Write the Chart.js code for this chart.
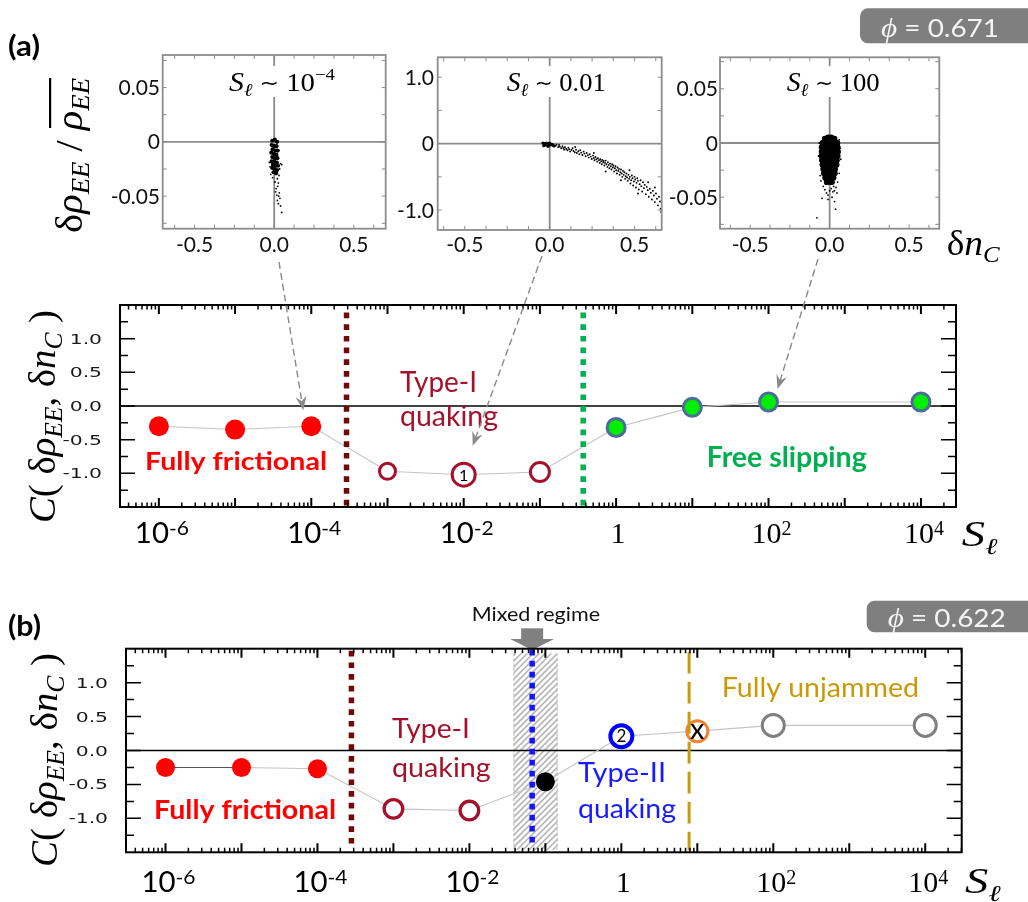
<!DOCTYPE html>
<html>
<head>
<meta charset="utf-8">
<title>C(δρEE, δnC) versus Sℓ</title>
<script src="https://cdn.jsdelivr.net/npm/chart.js@4.4.1/dist/chart.umd.min.js"></script>
<style>
  html, body { margin: 0; padding: 0; background: #fff; }
  #fig { position: relative; width: 1028px; height: 902px; overflow: hidden; background: #fff; }
  #fig canvas { position: absolute; left: 0; top: 0; }
</style>
</head>
<body>
<div id="fig">
  <canvas id="insetLow" width="1028" height="902"></canvas>
  <canvas id="insetMid" width="1028" height="902"></canvas>
  <canvas id="insetHigh" width="1028" height="902"></canvas>
  <canvas id="panelA" width="1028" height="902"></canvas>
  <canvas id="panelB" width="1028" height="902"></canvas>
</div>
<script>
// ---------------- data ----------------
// panel (a), phi = 0.671
const slA   = [1e-6, 1e-5, 1e-4, 1e-3, 1e-2, 1e-1, 1, 10, 100, 1e4];
const corrA = [-0.30, -0.35, -0.30, -0.97, -1.02, -0.98, -0.32, -0.02, 0.06, 0.06];
const boundA = [2.9e-4, 0.37];              // frictional | quaking-I | slipping

// panel (b), phi = 0.622
const slB   = [1e-6, 1e-5, 1e-4, 1e-3, 1e-2, 1e-1, 1, 10, 100, 1e4];
const corrB = [-0.25, -0.25, -0.27, -0.86, -0.885, -0.46, 0.21, 0.285, 0.37, 0.37];
const boundB = [2.8e-4, 0.067, 7.8];        // frictional | quaking-I | quaking-II | unjammed
const mixedBand = [0.038, 0.145];

// axis tick labels
const decadeLabels = [-6, -4, -2, 0, 2, 4];
const corrTicks = [-1.0, -0.5, 0.0, 0.5, 1.0];
const insetXTicks = [[-0.5, '-0.5'], [0, '0.0'], [0.5, '0.5']];
const insetYSmall = [[0.05, '0.05'], [0, '0'], [-0.05, '-0.05']];
const insetYLarge = [[1.0, '1.0'], [0, '0'], [-1.0, '-1.0']];

// scatter of (δn_C, δρ_EE/ρ̄_EE) at S_ℓ ~ 1e-4
const lowCore = [[-0.012,0.001],[0.004,0.002],[0.018,0.000],[-0.016,-0.003],[0.000,-0.004],[0.014,-0.004],
  [-0.010,-0.007],[0.008,-0.008],[0.022,-0.008],[-0.018,-0.010],[-0.002,-0.011],[0.014,-0.012],
  [-0.012,-0.014],[0.004,-0.015],[0.020,-0.015],[-0.016,-0.018],[0.000,-0.018],[0.016,-0.019],
  [-0.008,-0.021],[0.008,-0.022],[0.024,-0.022],[-0.012,-0.024],[0.004,-0.025],[0.018,-0.026],
  [-0.004,-0.028],[0.012,-0.029]];
const lowSparse = [[-0.030,-0.019],[-0.026,-0.023],[0.040,-0.020],[0.047,-0.021],[0.034,-0.025],[-0.022,-0.030],
  [0.030,-0.031],[-0.010,-0.033],[0.020,-0.034],[0.005,-0.037],[0.026,-0.038],[0.022,-0.041],[0.012,-0.043],
  [0.009,-0.046],[0.032,-0.047],[0.016,-0.049],[0.028,-0.050],[0.036,-0.052],[0.020,-0.054],[0.026,-0.057],
  [0.040,-0.059],[0.047,-0.065]];

// S_ℓ ~ 0.01
const midCore = [[-0.04,0.01],[-0.03,0.0],[-0.02,0.01],[-0.01,0.0],[0.0,0.01],[0.01,-0.01],[-0.025,-0.02],
  [0.015,-0.02],[-0.035,-0.03],[0.0,-0.02],[0.025,-0.035],[-0.01,-0.04]];
const midBand = [[0.02,-0.01],[0.035,-0.03],[0.04,-0.015],[0.05,-0.05],[0.055,-0.02],[0.06,-0.045],
  [0.068,-0.07],[0.075,-0.04],[0.08,-0.065],[0.085,-0.09],[0.09,-0.055],[0.097,-0.08],[0.105,-0.1],
  [0.11,-0.06],[0.115,-0.085],[0.12,-0.12],[0.128,-0.095],[0.135,-0.07],[0.14,-0.11],[0.148,-0.13],
  [0.15,-0.05],[0.155,-0.09],[0.16,-0.14],[0.168,-0.115],[0.175,-0.16],[0.18,-0.1],[0.186,-0.135],
  [0.193,-0.17],[0.2,-0.12],[0.205,-0.15],[0.212,-0.19],[0.218,-0.14],[0.225,-0.175],[0.23,-0.21],
  [0.236,-0.16],[0.242,-0.195],[0.248,-0.23],[0.255,-0.18],[0.26,-0.215],[0.26,-0.14],[0.264,-0.25],
  [0.27,-0.2],[0.275,-0.235],[0.28,-0.27],[0.284,-0.22],[0.29,-0.25],[0.295,-0.29],[0.298,-0.235],
  [0.303,-0.265],[0.307,-0.31],[0.31,-0.245],[0.315,-0.28],[0.318,-0.26],[0.322,-0.33],[0.326,-0.29],
  [0.33,-0.255],[0.33,-0.42],[0.335,-0.31],[0.34,-0.35],[0.343,-0.28],[0.348,-0.32],[0.352,-0.37],
  [0.356,-0.3],[0.36,-0.34],[0.364,-0.39],[0.368,-0.31],[0.372,-0.36],[0.376,-0.33],[0.38,-0.42],
  [0.384,-0.37],[0.388,-0.34],[0.392,-0.4],[0.396,-0.45],[0.4,-0.36],[0.404,-0.41],[0.408,-0.38],
  [0.412,-0.47],[0.416,-0.43],[0.42,-0.39],[0.42,-0.55],[0.424,-0.45],[0.428,-0.5],[0.432,-0.41],
  [0.436,-0.47],[0.44,-0.43],[0.444,-0.53],[0.448,-0.49],[0.452,-0.45],[0.456,-0.51],[0.46,-0.56],
  [0.464,-0.47],[0.468,-0.53],[0.47,-0.4],[0.472,-0.5],[0.476,-0.6],[0.48,-0.55],[0.484,-0.48],
  [0.488,-0.52],[0.492,-0.63],[0.496,-0.57],[0.5,-0.5],[0.504,-0.54],[0.508,-0.66],[0.512,-0.59],
  [0.516,-0.52],[0.52,-0.56],[0.52,-0.75],[0.525,-0.69],[0.53,-0.61],[0.535,-0.55],[0.54,-0.64],
  [0.545,-0.72],[0.55,-0.58],[0.555,-0.67],[0.56,-0.62],[0.566,-0.76],[0.572,-0.65],[0.578,-0.7],
  [0.58,-0.58],[0.584,-0.8],[0.59,-0.68],[0.596,-0.74],[0.602,-0.84],[0.608,-0.71],[0.614,-0.78],
  [0.62,-0.88],[0.62,-0.66],[0.626,-0.75],[0.632,-0.83],[0.638,-0.93],[0.644,-0.8],[0.65,-0.87],
  [0.654,-0.98],[0.657,-1.03]];

// S_ℓ ~ 100
const highCore = [
  [-0.03,0.004],[-0.01,0.005],[0.01,0.005],[0.03,0.004],
  [-0.045,0.000],[-0.025,0.000],[-0.005,0.000],[0.015,0.000],[0.035,0.000],[0.048,0.000],
  [-0.05,-0.004],[-0.03,-0.004],[-0.01,-0.004],[0.01,-0.004],[0.03,-0.004],[0.05,-0.004],
  [-0.05,-0.008],[-0.032,-0.008],[-0.014,-0.008],[0.004,-0.008],[0.022,-0.008],[0.04,-0.008],[0.052,-0.008],
  [-0.05,-0.012],[-0.03,-0.012],[-0.01,-0.012],[0.01,-0.012],[0.03,-0.012],[0.05,-0.012],
  [-0.048,-0.016],[-0.03,-0.016],[-0.012,-0.016],[0.006,-0.016],[0.024,-0.016],[0.045,-0.016],
  [-0.045,-0.020],[-0.027,-0.020],[-0.009,-0.020],[0.009,-0.020],[0.027,-0.020],[0.043,-0.020],
  [-0.04,-0.024],[-0.022,-0.024],[-0.004,-0.024],[0.014,-0.024],[0.034,-0.024],
  [-0.036,-0.028],[-0.018,-0.028],[0.0,-0.028],[0.018,-0.028],[0.032,-0.028],
  [-0.028,-0.032],[-0.01,-0.032],[0.008,-0.032],[0.024,-0.032],
  [-0.018,-0.036],[0.0,-0.036],[0.014,-0.036]];
const highSparse = [[-0.06,-0.030],[0.06,-0.028],[-0.055,-0.035],[0.05,-0.036],[-0.04,-0.040],[0.04,-0.041],
  [-0.03,-0.043],[0.03,-0.044],[-0.02,-0.046],[0.02,-0.045],[-0.01,-0.048],[0.01,-0.042],[0.0,-0.044],
  [-0.025,-0.038],[0.025,-0.040],[0.07,-0.015],[-0.07,-0.012],[0.065,-0.005],[-0.065,0.0],[0.06,0.003],
  [-0.08,-0.069],[-0.048,-0.051],[0.031,-0.054],[0.046,-0.046],[0.037,-0.061],[-0.01,-0.052],[0.015,-0.050]];

// ---------------- drawing helpers ----------------
const FIG_W = 1028, FIG_H = 902;
const SERIF = '"Liberation Serif", "DejaVu Serif", serif';
const SANS = 'Lato, "Open Sans", sans-serif';
const VERD = '"DejaVu Sans", Verdana, sans-serif';

const pts = (xs, ys) => xs.map((x, i) => ({ x, y: ys[i] }));
const pairs = list => list.map(([x, y]) => ({ x, y }));

// Draws a run of text pieces [text, font, dy, overline] on one baseline.
function richText(ctx, segs, x, y, opt = {}) {
  ctx.save();
  ctx.translate(x, y);
  if (opt.rotate) ctx.rotate(opt.rotate);
  const widths = segs.map(s => { ctx.font = s[1]; return ctx.measureText(s[0]).width; });
  const total = widths.reduce((a, b) => a + b, 0);
  const k = opt.width ? opt.width / total : (opt.scale || 1);
  ctx.scale(k, 1);
  let cx = opt.align === 'center' ? -total / 2 : opt.align === 'right' ? -total : 0;
  ctx.fillStyle = opt.color || '#000';
  ctx.textAlign = 'left';
  ctx.textBaseline = 'alphabetic';
  let b0 = null, b1 = null;
  segs.forEach((s, i) => {
    ctx.font = s[1];
    ctx.fillText(s[0], cx, s[2] || 0);
    if (s[3]) { if (b0 === null) b0 = cx; b1 = cx + widths[i]; }
    cx += widths[i];
  });
  if (b0 !== null && opt.bar) ctx.fillRect(b0 + 2, opt.bar[0], b1 - b0 - 2, opt.bar[1]);
  ctx.restore();
}

function vline(ctx, x, y0, y1, color, width, dash) {
  ctx.save();
  ctx.strokeStyle = color; ctx.lineWidth = width; ctx.setLineDash(dash); ctx.lineCap = 'butt';
  ctx.beginPath(); ctx.moveTo(x, y0); ctx.lineTo(x, y1); ctx.stroke();
  ctx.restore();
}

function phiBox(ctx, x, y, w, h, value, base) {
  ctx.save();
  ctx.fillStyle = '#7f7f7f';
  ctx.beginPath(); ctx.roundRect(x, y, w, h, 8); ctx.fill();
  ctx.restore();
  richText(ctx, [['ϕ', `italic 28px ${SERIF}`], [' = ' + value, `25px ${SANS}`]], x + 21, base,
    { width: 118, color: '#f4f4f4' });
}

function dashedArrow(ctx, x0, y0, x1, y1) {
  const ang = Math.atan2(y1 - y0, x1 - x0);
  const L = 14, Wd = 5.5, N = 9;
  const c = Math.cos(ang), s = Math.sin(ang);
  ctx.save();
  ctx.strokeStyle = '#8a8a8a'; ctx.fillStyle = '#8a8a8a';
  ctx.lineWidth = 1.4; ctx.setLineDash([7, 4]);
  ctx.beginPath(); ctx.moveTo(x0, y0); ctx.lineTo(x1 - c * N, y1 - s * N); ctx.stroke();
  ctx.setLineDash([]);
  ctx.beginPath();
  ctx.moveTo(x1, y1);
  ctx.lineTo(x1 - c * L - s * Wd, y1 - s * L + c * Wd);
  ctx.lineTo(x1 - c * N, y1 - s * N);
  ctx.lineTo(x1 - c * L + s * Wd, y1 - s * L - c * Wd);
  ctx.closePath(); ctx.fill();
  ctx.restore();
}

// Frame, inward ticks and tick labels of a log-x correlation panel.
function drawLogFrame(chart, labelBase) {
  const { ctx, chartArea: a, scales: { x, y } } = chart;
  ctx.save();
  ctx.strokeStyle = '#000';
  const e0 = Math.floor(Math.log10(x.min)), e1 = Math.ceil(Math.log10(x.max));
  for (let e = e0; e <= e1; e++) {
    for (let m = 1; m < 10; m++) {
      const v = m * Math.pow(10, e);
      if (v < x.min || v > x.max) continue;
      const px = x.getPixelForValue(v);
      const len = m === 1 ? 9 : 4.5;
      ctx.lineWidth = m === 1 ? 2 : 1.5;
      ctx.beginPath();
      ctx.moveTo(px, a.top); ctx.lineTo(px, a.top + len);
      ctx.moveTo(px, a.bottom); ctx.lineTo(px, a.bottom - len);
      ctx.stroke();
    }
  }
  for (let i = -5; i <= 5; i++) {
    const v = i * 0.25;
    const py = y.getPixelForValue(v);
    const len = i % 2 === 0 ? 15 : 8;
    ctx.lineWidth = 1.5;
    ctx.beginPath();
    ctx.moveTo(a.left, py); ctx.lineTo(a.left + len, py);
    ctx.moveTo(a.right, py); ctx.lineTo(a.right - len, py);
    ctx.stroke();
  }
  ctx.lineWidth = 2;
  ctx.strokeRect(a.left, a.top, a.right - a.left, a.bottom - a.top);
  ctx.restore();

  corrTicks.forEach(v => {
    richText(ctx, [[v.toFixed(1), `14px ${VERD}`]], a.left - 18, y.getPixelForValue(v) + 5,
      { align: 'right', scale: 1.45, color: '#1a1a1a' });
  });
  decadeLabels.forEach(e => {
    const px = x.getPixelForValue(Math.pow(10, e)) + 3;
    if (e === 0) {
      richText(ctx, [['1', `30px ${SERIF}`]], px - 1, labelBase, { align: 'center' });
    } else if (e > 0) {
      richText(ctx, [['10', `30px ${SERIF}`], [String(e), `20px ${SERIF}`, -8]], px, labelBase, { align: 'center' });
    } else {
      richText(ctx, [['10', `28px ${SANS}`], ['-' + (-e), `20px ${SANS}`, -8]], px, labelBase,
        { align: 'center', width: 54 });
    }
  });
}

function zeroLine(chart) {
  const { ctx, chartArea: a, scales: { y } } = chart;
  const py = y.getPixelForValue(0);
  ctx.save();
  ctx.strokeStyle = '#000'; ctx.lineWidth = 1.4;
  ctx.beginPath(); ctx.moveTo(a.left, py); ctx.lineTo(a.right, py); ctx.stroke();
  ctx.restore();
}

function markerLabel(chart, xv, yv, text, font, dy) {
  const { ctx, scales: { x, y } } = chart;
  ctx.save();
  ctx.font = font; ctx.fillStyle = '#000'; ctx.textAlign = 'center'; ctx.textBaseline = 'alphabetic';
  ctx.fillText(text, x.getPixelForValue(xv), y.getPixelForValue(yv) + dy);
  ctx.restore();
}

const yTitleSegs = [
  ['C', `italic 38px ${SERIF}`], ['( ', `38px ${SERIF}`], ['δ', `38px ${SERIF}`], ['ρ', `italic 38px ${SERIF}`],
  ['EE', `italic 25px ${SERIF}`, 7], [', ', `38px ${SERIF}`], ['δ', `38px ${SERIF}`], ['n', `italic 38px ${SERIF}`],
  ['C', `italic 25px ${SERIF}`, 7], [' )', `38px ${SERIF}`]];
const slSegs = [['S', `italic 35px ${SERIF}`], ['ℓ', `italic 23px ${SERIF}`, 8]];

function baseOptions(area, xScale, yScale) {
  const [L, T, R, B] = area;
  return {
    responsive: false, animation: false, devicePixelRatio: 1, events: [],
    layout: { padding: { left: L, top: T, right: FIG_W - R, bottom: FIG_H - B } },
    plugins: { legend: { display: false }, tooltip: { enabled: false } },
    scales: { x: Object.assign({ display: false }, xScale), y: Object.assign({ display: false }, yScale) }
  };
}

// ---------------- insets ----------------
function insetChart(id, area, xr, yr, yStep, yLabels, labelRight, titleSegs, titleX, titleW, sets) {
  const plugin = {
    id: 'insetFrame',
    beforeDatasetsDraw(chart) {
      const { ctx, chartArea: a, scales: { x, y } } = chart;
      ctx.save();
      ctx.strokeStyle = '#8c8c8c'; ctx.lineWidth = 1.8;
      ctx.beginPath();
      ctx.moveTo(a.left, y.getPixelForValue(0)); ctx.lineTo(a.right, y.getPixelForValue(0));
      ctx.moveTo(x.getPixelForValue(0), a.top); ctx.lineTo(x.getPixelForValue(0), a.bottom);
      ctx.stroke();
      ctx.restore();
    },
    afterDatasetsDraw(chart) {
      const { ctx, chartArea: a, scales: { x, y } } = chart;
      ctx.save();
      ctx.strokeStyle = '#8c8c8c'; ctx.lineWidth = 1;
      ctx.beginPath();
      for (let i = -6; i <= 6; i++) {
        const v = i * 0.125;
        if (v <= x.min || v >= x.max) continue;
        const px = x.getPixelForValue(v);
        ctx.moveTo(px, a.top); ctx.lineTo(px, a.top + 4);
        ctx.moveTo(px, a.bottom); ctx.lineTo(px, a.bottom - 4);
      }
      for (let i = -6; i <= 6; i++) {
        const v = i * yStep;
        if (v <= y.min || v >= y.max) continue;
        const py = y.getPixelForValue(v);
        ctx.moveTo(a.left, py); ctx.lineTo(a.left + 4, py);
        ctx.moveTo(a.right, py); ctx.lineTo(a.right - 4, py);
      }
      ctx.stroke();
      ctx.lineWidth = 1.8;
      ctx.strokeRect(a.left, a.top, a.right - a.left, a.bottom - a.top);
      // title sits on a white patch above the crosshair
      ctx.fillStyle = '#fff';
      ctx.fillRect(titleX - 2, 66, titleW + 4, 31);
      ctx.restore();
      richText(ctx, titleSegs, titleX, 90.7, { width: titleW });
      yLabels.forEach(([v, t]) => richText(ctx, [[t, `21px ${SANS}`]], labelRight, y.getPixelForValue(v) + 7.5,
        { align: 'right', color: '#111' }));
      insetXTicks.forEach(([v, t]) => richText(ctx, [[t, `21px ${SANS}`]], x.getPixelForValue(v), 251.7,
        { align: 'center', color: '#111' }));
    }
  };
  return new Chart(document.getElementById(id), {
    type: 'scatter',
    data: { datasets: sets.map(([d, r]) => ({ data: pairs(d), pointRadius: r, borderWidth: 0, backgroundColor: '#000' })) },
    options: baseOptions(area, { type: 'linear', min: -xr, max: xr }, { type: 'linear', min: -yr, max: yr }),
    plugins: [plugin]
  });
}

const titleS = [['S', `italic 27px ${SERIF}`], ['ℓ', `italic 18px ${SERIF}`, 5], [' ', `26px ${SERIF}`],
  ['∼', `21px "DejaVu Sans", sans-serif`, -1]];
insetChart('insetLow', [162.7, 55, 385.7, 228.7], 0.70, 0.08, 0.025, insetYSmall, 160,
  titleS.concat([[' 10', `26px ${SERIF}`], ['−4', `17px ${SERIF}`, -11]]), 229, 106,
  [[lowCore, 2.1], [lowSparse, 0.9]]);
insetChart('insetMid', [437.7, 57.3, 661.7, 230], 0.66, 1.3, 0.5, insetYLarge, 434,
  titleS.concat([[' 0.01', `26px ${SERIF}`]]), 506.7, 99,
  [[midCore, 1.6], [midBand, 0.95]]);
insetChart('insetHigh', [720, 57.3, 939.3, 228.7], 0.69, 0.079, 0.025, insetYSmall, 718,
  titleS.concat([[' 100', `26px ${SERIF}`]]), 786.7, 93,
  [[highCore, 3], [highSparse, 0.9]]);

// ---------------- panel (a) ----------------
const panelAPlugin = {
  id: 'panelA',
  beforeDatasetsDraw(chart) { zeroLine(chart); },
  afterDatasetsDraw(chart) {
    const { ctx, chartArea: a, scales: { x, y } } = chart;
    vline(ctx, x.getPixelForValue(boundA[0]), a.top + 7.5, a.bottom, '#700a0a', 5.5, [5.7, 6]);
    vline(ctx, x.getPixelForValue(boundA[1]), a.top + 7.5, a.bottom, '#00b050', 5.5, [5.7, 6]);
    drawLogFrame(chart, 543);
    markerLabel(chart, slA[4], corrA[4], '1', `16px ${SANS}`, 6);

    richText(ctx, [['Fully frictional', `bold 24px ${SANS}`]], 145, 470, { width: 182, color: '#ff0000' });
    richText(ctx, [['Type-I', `28px ${SANS}`]], 400, 391.7, { width: 77, color: '#a5102b' });
    richText(ctx, [['quaking', `28px ${SANS}`]], 400, 426, { width: 98, color: '#a5102b' });
    richText(ctx, [['Free slipping', `bold 28px ${SANS}`]], 706.7, 466.7, { width: 160, color: '#00b050' });

    // pointers from the insets down to the matching S_ℓ
    const px = v => x.getPixelForValue(v), py = v => y.getPixelForValue(v);
    dashedArrow(ctx, 279, 262, px(slA[2]) - 8, py(corrA[2]) - 16);
    dashedArrow(ctx, 542, 256, px(slA[4]) + 9, py(corrA[4]) - 29);
    dashedArrow(ctx, 818, 259, px(slA[8]) + 9, py(corrA[8]) - 13);

    // figure-level labels
    richText(ctx, [['(a)', `bold 28px ${SANS}`]], 8, 56, { width: 32 });
    phiBox(ctx, 860, 8.3, 180, 35, '0.671', 36.7);
    richText(ctx, [['δ', `38px ${SERIF}`], ['ρ', `italic 38px ${SERIF}`], ['EE', `italic 25px ${SERIF}`, 7],
      [' / ', `38px ${SERIF}`], ['ρ', `italic 38px ${SERIF}`, 0, 1], ['EE', `italic 25px ${SERIF}`, 7, 1]],
      82, 233, { width: 155, rotate: -Math.PI / 2, bar: [-33, 2.2] });
    richText(ctx, [['δ', `36px ${SERIF}`], ['n', `italic 36px ${SERIF}`], ['C', `italic 24px ${SERIF}`, 7]],
      946.7, 255, { width: 53 });
    richText(ctx, yTitleSegs, 55, 523, { width: 213, rotate: -Math.PI / 2 });
    richText(ctx, slSegs, 961.7, 546, { width: 36 });
  }
};

new Chart(document.getElementById('panelA'), {
  type: 'scatter',
  data: {
    datasets: [
      { data: pts(slA, corrA), showLine: true, borderColor: '#c4c4c4', borderWidth: 1.1, pointRadius: 0, order: 10 },
      { data: pts(slA.slice(0, 3), corrA.slice(0, 3)), pointRadius: 10, borderWidth: 0, backgroundColor: '#ff0000' },
      { data: pts(slA.slice(3, 6), corrA.slice(3, 6)), pointRadius: [8, 11.5, 9.5], borderWidth: 3,
        borderColor: '#a5102b', backgroundColor: '#ffffff' },
      { data: pts(slA.slice(6), corrA.slice(6)), pointRadius: 9, borderWidth: 3,
        borderColor: '#4a6d9c', backgroundColor: '#00ee00' }
    ]
  },
  options: baseOptions([120, 305, 956, 507],
    { type: 'logarithmic', min: Math.pow(10, -6.51), max: Math.pow(10, 4.46) },
    { type: 'linear', min: -1.5, max: 1.5 }),
  plugins: [panelAPlugin]
});

// ---------------- panel (b) ----------------
const panelBPlugin = {
  id: 'panelB',
  beforeDatasetsDraw(chart) {
    const { ctx, chartArea: a, scales: { x } } = chart;
    const xl = x.getPixelForValue(mixedBand[0]), xr = x.getPixelForValue(mixedBand[1]);
    const top = 653.3, bot = 850;
    ctx.save();
    ctx.beginPath(); ctx.rect(xl, top, xr - xl, bot - top); ctx.clip();
    ctx.strokeStyle = '#b8b8b8'; ctx.lineWidth = 1.6;
    ctx.beginPath();
    for (let k = -(bot - top) - 10; k < xr - xl + 10; k += 6) {
      ctx.moveTo(xl + k, bot); ctx.lineTo(xl + k + (bot - top), top);
    }
    ctx.stroke();
    ctx.restore();
    vline(ctx, xl + 0.5, top, bot, '#bdbdbd', 1, [3, 2]);
    vline(ctx, xr - 0.5, top, bot, '#bdbdbd', 1, [3, 2]);
    zeroLine(chart);
  },
  afterDatasetsDraw(chart) {
    const { ctx, chartArea: a, scales: { x } } = chart;
    vline(ctx, x.getPixelForValue(boundB[0]), a.top + 2, a.bottom - 4, '#700a0a', 5.5, [5.7, 6]);
    vline(ctx, x.getPixelForValue(boundB[1]), a.top + 1, a.bottom - 6, '#1414ff', 5.5, [5.7, 5.3]);
    vline(ctx, x.getPixelForValue(boundB[2]), 651.7, a.bottom - 2, '#c99a12', 3, [21.7, 8.3]);

    // arrow marking the mixed regime
    const cx = x.getPixelForValue(boundB[1]);
    ctx.save();
    ctx.fillStyle = '#808080';
    ctx.fillRect(cx - 11, 628.3, 22, 10.7);
    ctx.beginPath(); ctx.moveTo(cx - 22, 639); ctx.lineTo(cx + 22, 639); ctx.lineTo(cx, 650); ctx.closePath(); ctx.fill();
    ctx.restore();

    drawLogFrame(chart, 892);
    markerLabel(chart, slB[6], corrB[6], '2', `17px ${SANS}`, 6);
    markerLabel(chart, slB[7], corrB[7], 'x', `29px ${SANS}`, 7.5);

    richText(ctx, [['Mixed regime', `19px ${SANS}`]], 471.7, 620.7, { width: 128.3, color: '#111' });
    richText(ctx, [['Fully frictional', `bold 27px ${SANS}`]], 154, 819.3, { width: 182, color: '#ff0000' });
    richText(ctx, [['Type-I', `26px ${SANS}`]], 392, 737.7, { width: 78, color: '#a5102b' });
    richText(ctx, [['quaking', `26px ${SANS}`]], 392, 776.7, { width: 98.7, color: '#a5102b' });
    richText(ctx, [['Type-II', `27px ${SANS}`]], 578, 781.7, { width: 88, color: '#1a1aff' });
    richText(ctx, [['quaking', `27px ${SANS}`]], 578, 818.3, { width: 98, color: '#1a1aff' });
    richText(ctx, [['Fully unjammed', `27px ${SANS}`]], 721.7, 697.3, { width: 197.3, color: '#c99a06' });

    richText(ctx, [['(b)', `bold 28px ${SANS}`]], 8, 636, { width: 33 });
    phiBox(ctx, 866.7, 600.7, 175, 31.6, '0.622', 626.7);
    richText(ctx, yTitleSegs, 57, 867, { width: 214, rotate: -Math.PI / 2 });
    richText(ctx, slSegs, 965, 893, { width: 36 });
  }
};

new Chart(document.getElementById('panelB'), {
  type: 'scatter',
  data: {
    datasets: [
      { data: pts(slB, corrB), showLine: true, borderWidth: 1.1, pointRadius: 0, order: 10, borderColor: '#c4c4c4',
        segment: { borderColor: c => (c.p0DataIndex === 0 ? '#555555' : '#c4c4c4') } },
      { data: pts(slB.slice(0, 3), corrB.slice(0, 3)), pointRadius: 9.5, borderWidth: 0, backgroundColor: '#ff0000' },
      { data: pts(slB.slice(3, 5), corrB.slice(3, 5)), pointRadius: 9.3, borderWidth: 3.3,
        borderColor: '#a5102b', backgroundColor: '#ffffff' },
      { data: pts(slB.slice(5, 6), corrB.slice(5, 6)), pointRadius: 9.5, borderWidth: 0, backgroundColor: '#000000' },
      { data: pts(slB.slice(6, 7), corrB.slice(6, 7)), pointRadius: 11, borderWidth: 4,
        borderColor: '#0000ff', backgroundColor: '#ffffff' },
      { data: pts(slB.slice(7, 8), corrB.slice(7, 8)), pointRadius: 10.5, borderWidth: 3,
        borderColor: '#f08233', backgroundColor: '#ffffff' },
      { data: pts(slB.slice(8), corrB.slice(8)), pointRadius: 11, borderWidth: 3,
        borderColor: '#808080', backgroundColor: '#ffffff' }
    ]
  },
  options: baseOptions([126, 648.7, 961.7, 852.3],
    { type: 'logarithmic', min: Math.pow(10, -6.52), max: Math.pow(10, 4.48) },
    { type: 'linear', min: -1.5, max: 1.5 }),
  plugins: [panelBPlugin]
});
</script>
</body>
</html>
